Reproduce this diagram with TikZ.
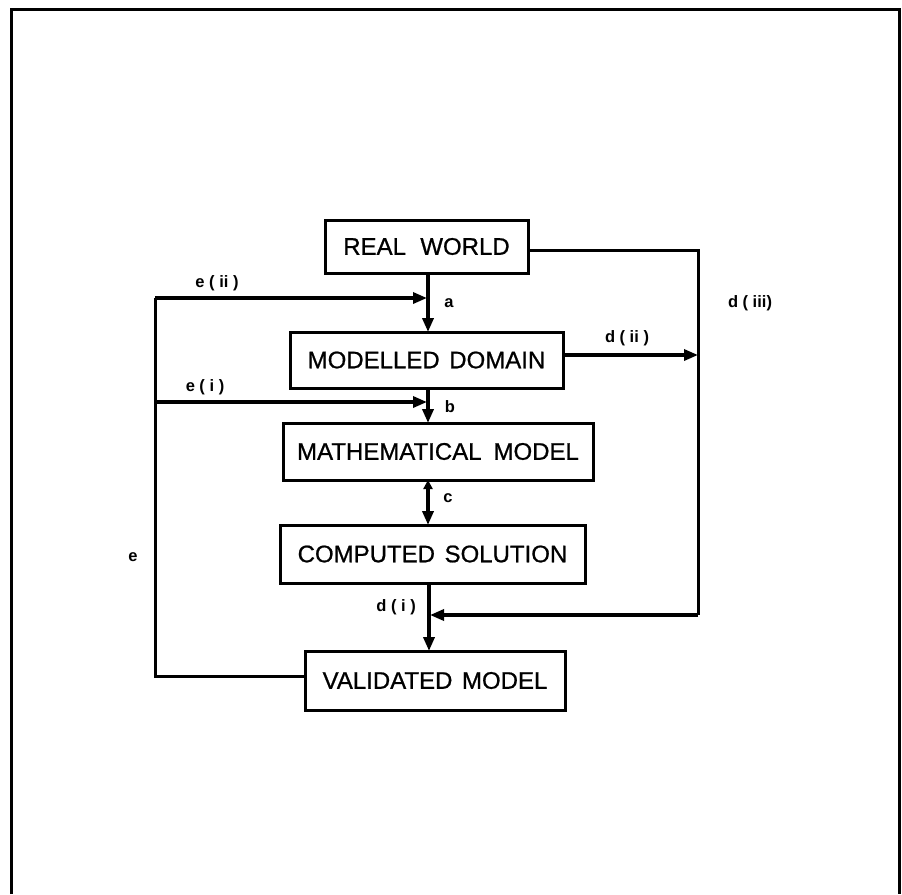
\documentclass[tikz,border=0pt]{standalone}
\usepackage{fontspec}
\setmainfont{Liberation Sans}
\newfontfamily\boxfont{Liberation Sans}[FakeBold=0.8]
\usetikzlibrary{arrows.meta}
\begin{document}
\begin{tikzpicture}[x=1pt,y=-1pt,
  box/.style={draw,line width=3pt,inner sep=0pt,font=\boxfont\fontsize{24}{26}\selectfont},
  lbl/.style={font=\bfseries\fontsize{16.5}{18}\selectfont,inner sep=0pt},
  arr/.style={line width=3.6pt,-{Triangle[length=14pt,width=11pt]}},
  dbl/.style={line width=3.6pt,{Triangle[length=9pt,width=9pt]}-{Triangle[length=14pt,width=11pt]}},
  ln/.style={line width=3pt}]
\useasboundingbox (0,0) rectangle (902,894);
\draw[line width=3pt] (11,894) -- (11,9) -- (899,9) -- (899,894);
% boxes
\node[box,minimum width=203pt,minimum height=53pt] (rw) at (426.5,246.5) {REAL\hspace{0.6em}WORLD};
\node[box,minimum width=273pt,minimum height=56pt] (md) at (426.5,360) {MODELLED\hspace{0.4em}DOMAIN};
\node[box,minimum width=310pt,minimum height=57pt] (mm) at (438,451.5) {MATHEMATICAL\hspace{0.5em}MODEL};
\node[box,minimum width=305pt,minimum height=58pt] (cs) at (432.5,554) {COMPUTED\hspace{0.4em}SOLUTION};
\node[box,minimum width=260pt,minimum height=59pt] (vm) at (435,680.5) {VALIDATED\hspace{0.4em}MODEL};
% coordinates
\coordinate (a1) at (428,273);
\coordinate (a2) at (428,332);
\coordinate (b1) at (428,388);
\coordinate (b2) at (428,423);
\coordinate (c1) at (428,480);
\coordinate (c2) at (428,525);
\coordinate (d1) at (429,583);
\coordinate (d2) at (429,651);
\coordinate (eii) at (427,298);
\coordinate (ei) at (427,402);
\coordinate (ltop) at (155,298);
\coordinate (lmid) at (155,402);
\coordinate (lbot) at (155,676);
\coordinate (rtop) at (698,250);
\coordinate (rmid) at (698,355);
\coordinate (rbot) at (698,615);
\coordinate (dj) at (430,615);
% main arrows
\draw[arr] (a1) -- (a2);
\draw[arr] (b1) -- (b2);
\draw[dbl] (c1) -- (c2);
\draw[arr] (d1) -- (d2);
% feedback e
\draw[ln] (vm.west |- lbot) -- (lbot) -- (ltop);
\draw[arr,line width=3.2pt] (ltop) -- (eii);
\draw[arr,line width=3.2pt] (lmid) -- (ei);
% d(iii), d(ii)
\draw[ln] (rw.east |- rtop) -- (rtop) -- (rbot);
\draw[arr,line width=3.2pt] (rbot) -- (dj);
\draw[arr,line width=3.2pt] (md.east |- rmid) -- (rmid);
% labels
\node[lbl] (la) at (449,303) {a};
\node[lbl] (lb) at (450,407) {b};
\node[lbl] (lc) at (448,498) {c};
\node[lbl,anchor=east] (ldi) at (416,607) {d ( i )};
\node[lbl] (ldii) at (627,338) {d ( ii )};
\node[lbl] (ldiii) at (750,303) {d ( iii)};
\node[lbl] (leii) at (217,283) {e ( ii )};
\node[lbl] (lei) at (205,387) {e ( i )};
\node[lbl] (le) at (133,557) {e};
\end{tikzpicture}
\end{document}
